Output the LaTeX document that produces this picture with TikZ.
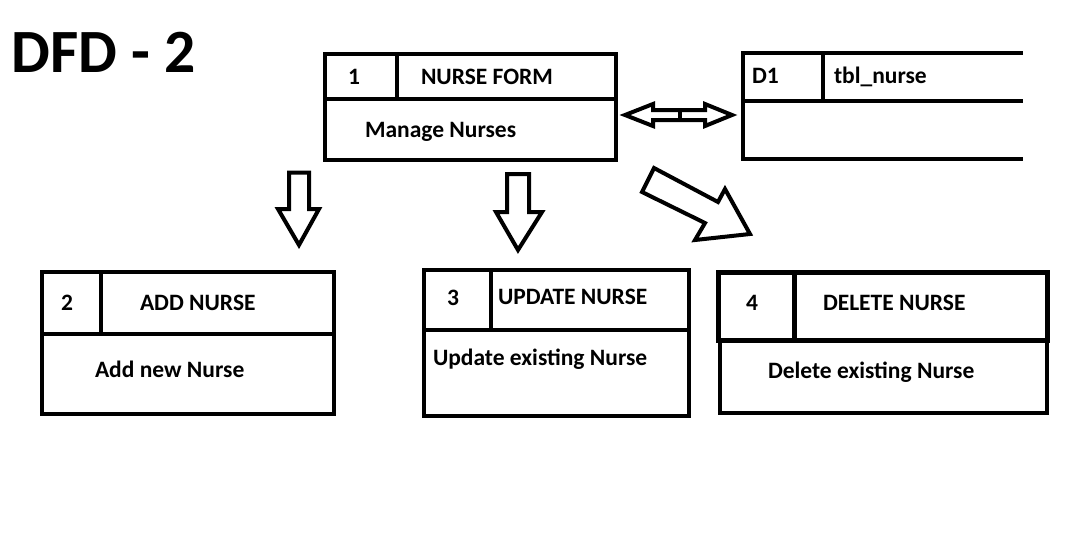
\documentclass[tikz,border=0pt]{standalone}
\usepackage{fontspec}
\setmainfont{Carlito}

\begin{document}
\begin{tikzpicture}[x=1pt, y=-1pt, line width=4pt,
    cell/.style={draw, rectangle, anchor=north west, inner sep=0pt, outer sep=0pt}]
  \tikzstyle{every node}=[font=\bfseries\fontsize{23.5}{28}\selectfont]
  \useasboundingbox (0,0) rectangle (1083,558);

  \node[anchor=base west, inner sep=0pt, font=\bfseries\fontsize{61.5}{72}\selectfont] (title) at (10,72) {DFD - 2};

  % process boxes
  \node[cell, minimum width=72, minimum height=45] (1) at (325,54) {};
  \node[cell, minimum width=219, minimum height=45] (1n) at (397,54) {};
  \node[cell, minimum width=291, minimum height=61] (1d) at (325,99) {};

  \node[cell, minimum width=58.5, minimum height=62] (2) at (42,272) {};
  \node[cell, minimum width=233.5, minimum height=62] (2n) at (100.5,272) {};
  \node[cell, minimum width=292, minimum height=80] (2d) at (42,334) {};

  \node[cell, minimum width=67, minimum height=60] (3) at (424,270) {};
  \node[cell, minimum width=198, minimum height=60] (3n) at (491,270) {};
  \node[cell, minimum width=265, minimum height=86] (3d) at (424,330) {};

  \node[cell, line width=5pt, minimum width=76, minimum height=68] (4) at (718,272) {};
  \node[cell, line width=5pt, minimum width=253, minimum height=68] (4n) at (794,272) {};
  \node[cell, minimum width=327, minimum height=73] (4d) at (720,340) {};

  % data store
  \node[cell, line width=4.5pt, minimum width=80, minimum height=48] (d1) at (743,53) {};
  \coordinate (d1top) at (1023,53);
  \coordinate (d1mid) at (1023,101);
  \coordinate (d1bot) at (1023,159);
  \draw (d1.north east) -- (d1top);
  \draw (d1.south east) -- (d1mid);
  \draw (d1.south west) -- (d1.south west |- d1bot) -- (d1bot);

  % labels
  \path[every node/.append style={anchor=base west, inner sep=0pt}]
    (346,84.5) node (1t) {1}
    (419,84.5) node (1nt) {NURSE FORM}
    (363,137) node (1dt) {Manage Nurses}
    (750,83) node (d1t) {D1}
    (832,83) node (d1nt) {tbl\_nurse}
    (59,310.5) node (2t) {2}
    (138,310.5) node (2nt) {ADD NURSE}
    (93,377.5) node (2dt) {Add new Nurse}
    (445,305.5) node (3t) {3}
    (496,304) node (3nt) {UPDATE NURSE}
    (431,365) node (3dt) {Update existing Nurse}
    (744,310) node (4t) {4}
    (821,310) node (4nt) {DELETE NURSE}
    (766,378) node (4dt) {Delete existing Nurse};

  % flows (block arrows)
  \draw (625,115) -- (653,104) -- (653,110) -- (705,110) -- (705,104) -- (732,115)
     -- (705,126) -- (705,120) -- (653,120) -- (653,126) -- cycle;
  \draw (680,110) -- (680,120);
  \draw (289,172.5) -- (309,172.5) -- (309,209) -- (319,209) -- (299,245)
     -- (278,209) -- (289,209) -- cycle;
  \draw (507,174) -- (529,174) -- (529,212) -- (542,212) -- (518,250)
     -- (496,212) -- (507,212) -- cycle;
  \draw (654,168) -- (718,202) -- (725,189) -- (750,234) -- (695,240)
     -- (705,223) -- (642,192) -- cycle;
\end{tikzpicture}
\end{document}
